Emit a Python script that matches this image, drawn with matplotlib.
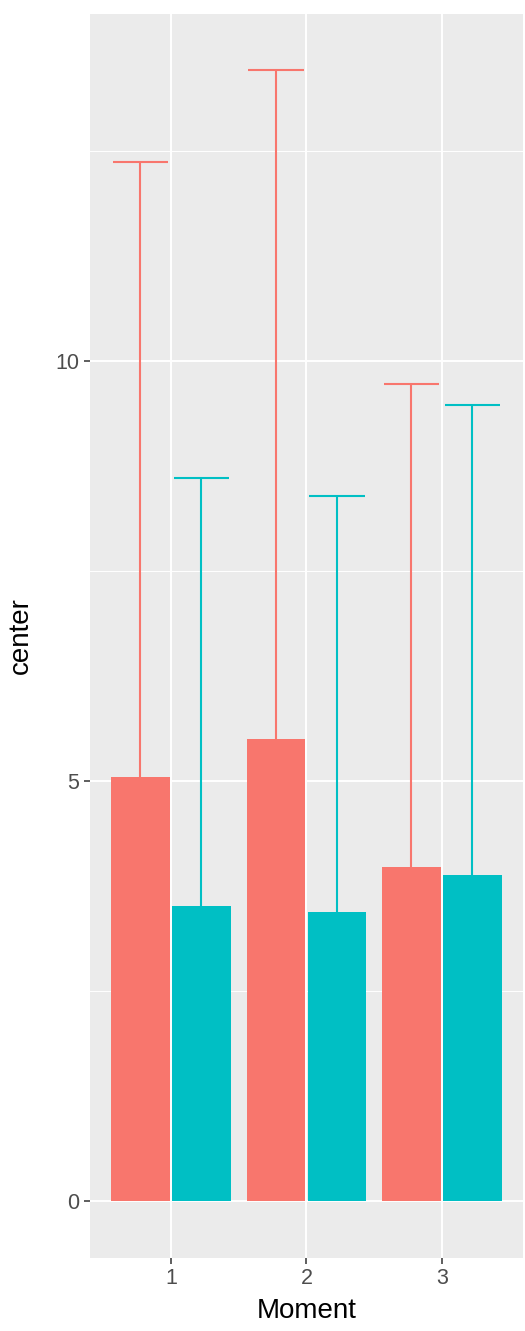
import numpy as np
import matplotlib.pyplot as plt

plt.rcParams['font.family'] = ['Liberation Sans', 'DejaVu Sans']

# data
moments = ['1', '2', '3']
center_red = [5.05, 5.50, 3.98]
center_teal = [3.52, 3.44, 3.88]
upper_red = [12.37, 13.46, 9.73]
upper_teal = [8.61, 8.39, 9.48]

red = '#F8766D'
teal = '#00BFC4'

fig = plt.figure(figsize=(5.25, 13.31), dpi=100)
ax = fig.add_axes([89.6 / 525, 1 - 1258 / 1331, 433.6 / 525, 1244 / 1331])
ax.set_facecolor('#EBEBEB')

x = np.arange(1, len(moments) + 1)
off = 0.225
bw = 0.43
cap = 0.41

for xs, c, up, col in [(x - off, center_red, upper_red, red),
                       (x + off, center_teal, upper_teal, teal)]:
    ax.vlines(xs, c, up, color=col, lw=1.5, zorder=2)
    ax.hlines(up, xs - cap / 2, xs + cap / 2, color=col, lw=1.5, zorder=2)
    ax.bar(xs, c, width=bw, color=col, zorder=3)

ax.set_xlim(0.4, 3.6)
ax.set_ylim(-0.673, 14.13)

ax.set_yticks([0, 5, 10])
ax.set_yticks([2.5, 7.5, 12.5], minor=True)
ax.set_xticks(x)
ax.set_xticklabels(moments)
ax.grid(True, which='major', color='white', lw=1.4, zorder=0)
ax.grid(True, which='minor', axis='y', color='white', lw=0.7, zorder=0)
ax.set_axisbelow(True)
for s in ax.spines.values():
    s.set_visible(False)
ax.tick_params(which='major', length=4.3, width=1.1, color='#333333',
               labelsize=15.5, labelcolor='#4D4D4D', pad=3)
ax.tick_params(which='minor', length=0)

ax.set_xlabel('Moment', fontsize=20)
ax.set_ylabel('center', fontsize=20)
ax.xaxis.set_label_coords(0.5, -0.032)
ax.yaxis.set_label_coords(-0.128, 0.5)

fig.savefig('out.png', dpi=100)
